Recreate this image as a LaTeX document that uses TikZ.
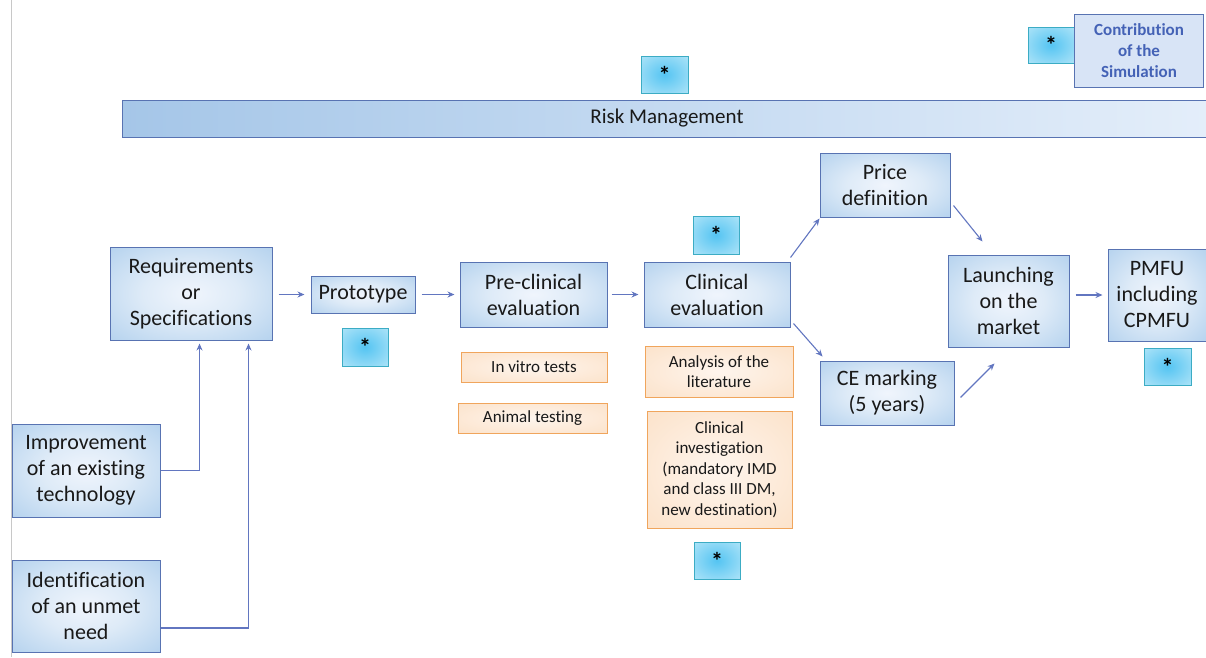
\documentclass[tikz,border=0pt]{standalone}
\usepackage{fontspec}
\setmainfont[Ligatures=NoCommon]{Carlito}
\usetikzlibrary{arrows.meta,calc}
\definecolor{bord}{RGB}{88,115,178}
\definecolor{arrowc}{RGB}{98,118,192}
\definecolor{starbord}{RGB}{60,172,196}
\definecolor{orbord}{RGB}{240,165,92}
\definecolor{legfill}{RGB}{216,228,246}
\definecolor{legtext}{RGB}{68,98,182}
\definecolor{txt}{RGB}{25,25,25}
\definecolor{rbL}{RGB}{165,198,232}
\definecolor{rbR}{RGB}{228,238,250}
\definecolor{sidel}{RGB}{200,200,200}
\pgfdeclareradialshading{bluebox}{\pgfpoint{0bp}{0bp}}{rgb(0bp)=(0.94,0.96,0.99);rgb(15bp)=(0.87,0.92,0.97);rgb(50bp)=(0.60,0.76,0.91)}
\pgfdeclareradialshading{starbox}{\pgfpoint{0bp}{0bp}}{rgb(0bp)=(0.33,0.77,0.95);rgb(50bp)=(0.82,0.94,0.98)}
\pgfdeclareradialshading{orbox}{\pgfpoint{0bp}{0bp}}{rgb(0bp)=(0.995,0.96,0.93);rgb(50bp)=(0.985,0.86,0.74)}
\tikzset{
  sz/.style 2 args={minimum width=#1pt, minimum height=#2pt},
  bbox/.style={draw=bord, line width=1pt, shade, shading=bluebox, inner sep=0pt, align=center, text=txt, font=\fontsize{22}{26}\selectfont},
  obox/.style={draw=orbord, line width=1pt, shade, shading=orbox, inner sep=0pt, align=center, text=txt, font=\fontsize{17}{20.5}\selectfont},
  sbox/.style={draw=starbord, line width=1pt, shade, shading=starbox, inner sep=0pt, align=center, text=black, font=\fontsize{24}{24}\selectfont\bfseries},
  arr/.style={draw=arrowc, line width=1.1pt, -{Stealth[length=7pt,width=6pt]}},
}
\begin{document}
\begin{tikzpicture}[x=1pt,y=-1pt]
\useasboundingbox (0,0) rectangle (1206,657);
\draw[sidel, line width=0.8pt] (11,0) -- (11,657);

% legend
\node[sbox, sz={46}{36}] (legstar) at (1051,45) {*};
\node[draw=bord, line width=1pt, fill=legfill, sz={129}{73}, align=center, text=legtext, font=\fontsize{17}{21}\selectfont\bfseries, inner sep=0pt] (legend) at (1139,51) {Contribution\\of the\\Simulation};

% risk management
\node[sbox, sz={47}{37}] (startop) at (664.5,74.5) {*};
\node[draw=bord, line width=1pt, left color=rbL, right color=rbR, sz={1090}{37}, inner sep=0pt, text=txt, font=\fontsize{21}{25}\selectfont] (risk) at (667,118.5) {Risk Management};

% main boxes
\node[bbox, sz={162}{93}] (req) at (191,293.5) {Requirements\\or\\Specifications};
\node[bbox, sz={104}{37}] (proto) at (363,294.5) {Prototype};
\node[sbox, sz={46}{38}] (starproto) at (365,347) {*};
\node[bbox, sz={147}{65}] (pre) at (533.5,294.5) {Pre-clinical\\evaluation};
\node[bbox, sz={146}{65}] (clin) at (717,294.5) {Clinical\\evaluation};
\node[sbox, sz={46}{38}] (starclin) at (716,235) {*};
\node[bbox, sz={130}{64}] (price) at (885,185) {Price\\definition};
\node[bbox, sz={134}{64}] (ce) at (887,393) {CE marking\\(5 years)};
\node[bbox, sz={121}{92}] (launch) at (1008.5,301) {Launching\\on the\\market};
\node[bbox, sz={98}{92}] (pmfu) at (1157,295) {PMFU\\including\\CPMFU};
\node[sbox, sz={47}{37}] (starpmfu) at (1167.5,366.5) {*};
\node[bbox, sz={148}{93}] (impr) at (86,470.5) {Improvement\\of an existing\\technology};
\node[bbox, sz={148}{92}] (ident) at (86,606) {Identification\\of an unmet\\need};

% orange boxes
\node[obox, sz={146}{30}] (vitro) at (534,367) {In vitro tests};
\node[obox, sz={149}{30}] (animal) at (532.5,418) {Animal testing};
\node[obox, sz={148}{51}] (analysis) at (719,371.5) {Analysis of the\\literature};
\node[obox, sz={145}{117}] (inv) at (719.5,469.5) {Clinical\\investigation\\(mandatory IMD\\and class III DM,\\new destination)};
\node[sbox, sz={46}{37}] (starinv) at (717,560.5) {*};

% connectors
\draw[arr, shorten <=6pt, shorten >=6pt] (req.east |- proto.west) -- (proto.west);
\draw[arr, shorten <=6pt, shorten >=5pt] (proto.east) -- (pre.west);
\draw[arr, shorten <=4pt, shorten >=5pt] (pre.east) -- (clin.west);
\draw[arr, shorten <=6pt, shorten >=5pt] (launch.east |- pmfu.west) -- (pmfu.west);
\draw[arr] ($(clin.north east)+(0,-4)$) -- ($(price.south west)+(0,1)$);
\draw[arr] ($(clin.south east)+(3,-4)$) -- ($(ce.north west)+(3,-4)$);
\draw[arr] ($(price.south east)+(3,-12)$) -- ($(launch.north west)+(35,-13)$);
\draw[arr] ($(ce.north east)+(6,37)$) -- ($(launch.south west)+(47,16)$);
\coordinate (r1) at ($(req.south west)+(90,3)$);
\coordinate (r2) at ($(req.south west)+(139,3)$);
\draw[arr] (impr.east) -| (r1);
\draw[arr] (ident.east |- 0,628) -| (r2);
\end{tikzpicture}
\end{document}
